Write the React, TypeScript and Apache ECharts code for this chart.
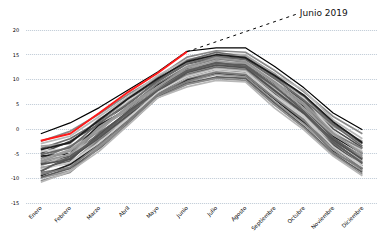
import React, { useEffect, useRef } from "react";
import * as echarts from "echarts";

const months = ["Enero", "Febrero", "Marzo", "Abril", "Mayo", "Junio", "Julio", "Agosto", "Septiembre", "Octubre", "Noviembre", "Diciembre"];

const yearsGray: number[][] = [
  [-2.5, -0.5, 3.0, 7.0, 10.5, 14.5, 15.8, 15.5, 11.8, 7.5, 2.5, -1.0],
  [-3.0, -1.5, 2.5, 6.5, 10.8, 14.0, 15.2, 15.0, 11.0, 7.8, 1.8, -2.0],
  [-4.0, -2.0, 1.5, 6.0, 10.0, 13.8, 15.5, 14.6, 10.5, 6.5, 1.0, -3.0],
  [-3.5, -3.0, 2.0, 5.5, 9.5, 13.5, 14.8, 14.8, 11.2, 6.0, 0.5, -2.5],
  [-5.0, -2.5, 1.0, 5.0, 9.8, 13.0, 14.5, 14.2, 10.0, 5.5, 0.0, -3.8],
  [-4.5, -4.0, 0.5, 5.8, 9.0, 12.8, 14.0, 13.8, 9.8, 6.2, -0.5, -4.5],
  [-6.0, -3.5, 0.0, 4.5, 9.2, 12.5, 14.2, 13.5, 9.5, 5.0, -1.0, -4.0],
  [-5.5, -5.0, 0.8, 4.0, 8.8, 12.2, 13.5, 13.2, 9.0, 4.5, -1.5, -5.0],
  [-6.5, -4.5, -0.5, 4.8, 8.5, 12.0, 13.8, 12.8, 8.8, 4.8, -2.0, -5.5],
  [-7.0, -5.5, -1.0, 3.5, 8.2, 11.8, 13.2, 13.0, 8.5, 4.0, -1.8, -6.0],
  [-6.8, -6.0, 0.2, 3.8, 8.0, 11.5, 13.0, 12.5, 8.2, 3.5, -2.5, -5.8],
  [-7.5, -5.0, -1.5, 3.0, 7.8, 11.2, 12.8, 12.2, 8.0, 3.8, -3.0, -6.5],
  [-8.0, -6.5, -0.8, 3.2, 7.5, 11.0, 12.5, 12.0, 7.5, 3.0, -2.8, -6.8],
  [-7.8, -7.0, -2.0, 2.5, 7.2, 10.8, 12.2, 11.8, 7.2, 2.5, -3.5, -7.0],
  [-8.5, -6.0, -1.8, 2.8, 7.0, 10.5, 12.0, 11.5, 7.0, 2.0, -3.2, -7.5],
  [-9.0, -7.5, -2.5, 2.0, 6.8, 10.2, 11.8, 11.2, 6.5, 2.2, -4.0, -7.2],
  [-8.8, -8.0, -2.2, 1.8, 7.0, 10.0, 11.5, 11.0, 6.2, 1.5, -3.8, -8.0],
  [-9.5, -7.2, -3.0, 1.5, 6.5, 9.8, 11.2, 10.8, 6.0, 1.2, -4.5, -8.2],
  [-10.0, -8.5, -3.5, 1.2, 6.6, 9.5, 11.0, 10.5, 5.5, 1.0, -4.2, -8.5],
  [-9.8, -8.0, -4.0, 1.0, 6.4, 9.2, 10.5, 10.2, 5.2, 0.5, -5.0, -8.8],
  [-10.5, -8.8, -3.8, 0.9, 6.3, 9.0, 10.2, 9.8, 4.8, 0.2, -5.2, -9.2],
  [-10.8, -8.6, -4.5, 0.8, 6.3, 8.5, 9.8, 9.5, 4.2, -0.2, -5.5, -9.5],
  [-5.2, -3.8, 1.2, 5.2, 9.6, 13.2, 14.6, 14.0, 10.2, 5.8, 0.8, -3.5],
  [-6.2, -4.2, -0.2, 4.2, 8.6, 12.4, 13.6, 13.3, 9.2, 4.2, -1.2, -4.8],
  [-7.2, -6.2, -1.2, 3.6, 7.6, 11.4, 12.9, 12.4, 7.8, 3.2, -2.2, -6.2],
  [-8.2, -6.8, -2.8, 2.2, 7.4, 10.6, 12.1, 11.6, 6.8, 2.6, -3.6, -7.6],
  [-9.2, -7.8, -3.2, 1.6, 6.9, 9.6, 11.4, 10.9, 6.2, 1.8, -4.8, -8.0],
  [-4.2, -2.8, 1.8, 6.2, 10.2, 13.6, 15.0, 14.4, 10.8, 6.8, 1.4, -2.8],
  [-6.6, -5.2, 0.4, 4.4, 8.4, 12.6, 14.4, 13.6, 9.4, 5.2, -0.8, -5.2],
  [-8.6, -5.6, -1.6, 3.4, 7.8, 11.6, 13.4, 12.6, 8.6, 3.6, -2.6, -7.0],
];

const grayShades = ["#8a8a8a", "#b8b8b8", "#6a6a6a", "#a0a0a0", "#505050", "#cccccc", "#7c7c7c", "#1e1e1e", "#969696", "#5c5c5c"];

const topLine = [-1.0, 1.2, 4.3, 7.9, 11.5, 15.7, 16.4, 16.4, 12.6, 8.3, 3.2, -0.2];
const year2019 = [-2.4, -1.0, 3.2, 7.5, 11.3, 15.6];

const yTicks = [-15, -10, -5, 0, 5, 10, 15, 20];
const annotationText = "Junio 2019";

export default function App() {
  const ref = useRef<HTMLDivElement>(null);
  useEffect(() => {
    if (!ref.current) return;
    const chart = echarts.init(ref.current, undefined, { renderer: "svg" });
    const grayLine = { type: "dotted" as const, color: "#bcc8d4", width: 1 };
    const series: any[] = yearsGray.map((d, i) => ({
      type: "line",
      data: d,
      symbol: "none",
      silent: true,
      lineStyle: { color: grayShades[i % grayShades.length], width: 1.7 },
      z: 2,
    }));
    series.push({
      type: "line",
      data: topLine,
      symbol: "none",
      lineStyle: { color: "#000", width: 1.2 },
      z: 3,
    });
    series.push({
      type: "line",
      data: year2019,
      symbol: "none",
      lineStyle: { color: "#ff1a1a", width: 2 },
      z: 4,
      markLine: {
        silent: true,
        symbol: ["none", "none"],
        lineStyle: { color: "#000", type: [3, 4], width: 1 },
        label: {
          show: true,
          position: "end",
          formatter: annotationText,
          color: "#111",
          fontSize: 9,
          fontFamily: "DejaVu Sans",
          distance: 3,
        },
        data: [[{ coord: [months[5], year2019[5]] }, { x: 289, y: 6 }]],
      },
    });
    chart.setOption({
      animation: false,
      grid: { left: 11, right: 0, top: 22, bottom: 35 },
      xAxis: {
        type: "category",
        data: months,
        boundaryGap: true,
        axisLine: { show: false },
        axisTick: { show: false },
        axisLabel: { rotate: 45, fontSize: 5.5, color: "#000", margin: 4, interval: 0, fontFamily: "DejaVu Sans" },
      },
      yAxis: {
        type: "value",
        min: yTicks[0],
        max: yTicks[yTicks.length - 1],
        interval: 5,
        axisLine: { show: false },
        axisTick: { show: false },
        splitLine: { show: true, lineStyle: grayLine },
        axisLabel: { fontSize: 5, color: "#000", margin: 7, fontFamily: "DejaVu Sans" },
      },
      series,
    });
    return () => chart.dispose();
  }, []);
  return <div ref={ref} style={{ width: 369, height: 230 }} />;
}
